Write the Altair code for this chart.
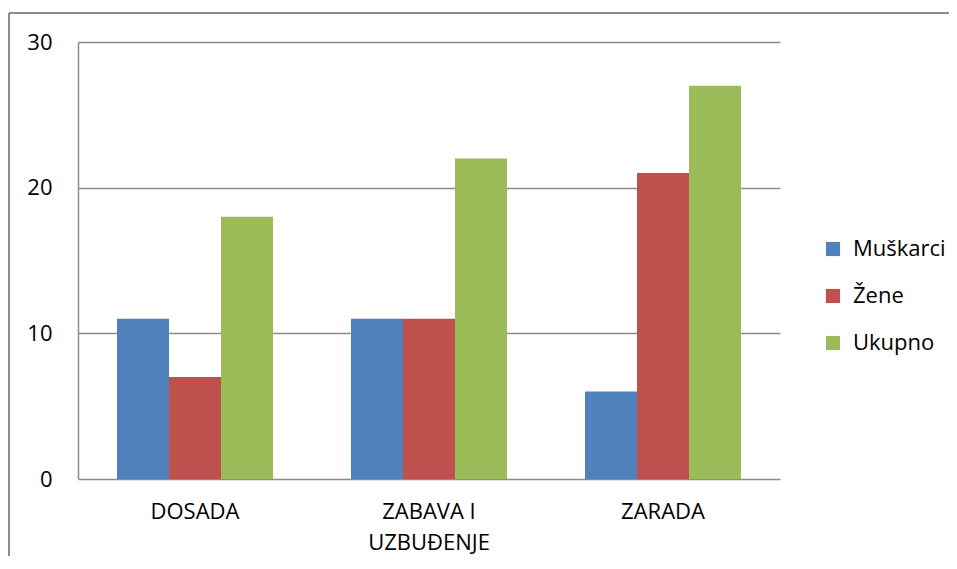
import altair as alt
import pandas as pd

categories = ["DOSADA", "ZABAVA I UZBUĐENJE", "ZARADA"]
series = ["Muškarci", "Žene", "Ukupno"]
muskarci = [11, 11, 6]
zene = [7, 11, 21]
ukupno = [18, 22, 27]
colors = ["#4F81BD", "#C0504D", "#9BBB59"]
y_ticks = [0, 10, 20, 30]

rows = []
for i, c in enumerate(categories):
    for s, vals in zip(series, [muskarci, zene, ukupno]):
        rows.append({"kategorija": c, "serija": s, "vrijednost": vals[i]})
df = pd.DataFrame(rows)

FONT = "Open Sans"
FS = 22

bars = alt.Chart(df).mark_bar(clip=False).encode(
    x=alt.X("kategorija:N", sort=categories, title=None,
            scale=alt.Scale(paddingInner=0, paddingOuter=0),
            axis=alt.Axis(labelAngle=0, ticks=False, domain=False,
                          labelFont=FONT, labelFontSize=FS, labelColor="#000",
                          labelPadding=22, labelLineHeight=31,
                          labelExpr="datum.label == 'ZABAVA I UZBUĐENJE' ? ['ZABAVA I', 'UZBUĐENJE'] : datum.label")),
    xOffset=alt.XOffset("serija:N", sort=series,
                        scale=alt.Scale(paddingInner=0, paddingOuter=0.75)),
    y=alt.Y("vrijednost:Q", title=None,
            scale=alt.Scale(domain=[0, 30], nice=False),
            axis=alt.Axis(values=y_ticks, ticks=False, domain=True,
                          domainColor="#8c8c8c", domainWidth=1.5,
                          gridColor="#8c8c8c", gridWidth=1.5,
                          labelFont=FONT, labelFontSize=FS, labelColor="#000",
                          labelPadding=26)),
    color=alt.Color("serija:N", sort=series,
                    scale=alt.Scale(domain=series, range=colors),
                    legend=alt.Legend(title=None, orient="none", legendX=744, legendY=196,
                                      symbolType="square", symbolSize=200,
                                      symbolStrokeWidth=0,
                                      labelFont=FONT, labelFontSize=FS, labelColor="#000",
                                      rowPadding=25, labelOffset=9)),
)

frame_h = alt.Chart(df).mark_rule(color="#8c8c8c", strokeWidth=2, clip=False).encode(
    x=alt.value(-69), x2=alt.value(880), y=alt.value(-29))
frame_v = alt.Chart(df).mark_rule(color="#8c8c8c", strokeWidth=2, clip=False).encode(
    x=alt.value(-69), y=alt.value(-29), y2=alt.value(520))

chart = alt.layer(bars, frame_h, frame_v).properties(
    width=702, height=437,
    autosize=alt.AutoSizeParams(type="none"),
    padding={"left": 70, "top": 34, "right": 169, "bottom": 77},
).configure_view(stroke=None)

chart.save("out.html", embed_options={"renderer": "svg", "actions": False})
